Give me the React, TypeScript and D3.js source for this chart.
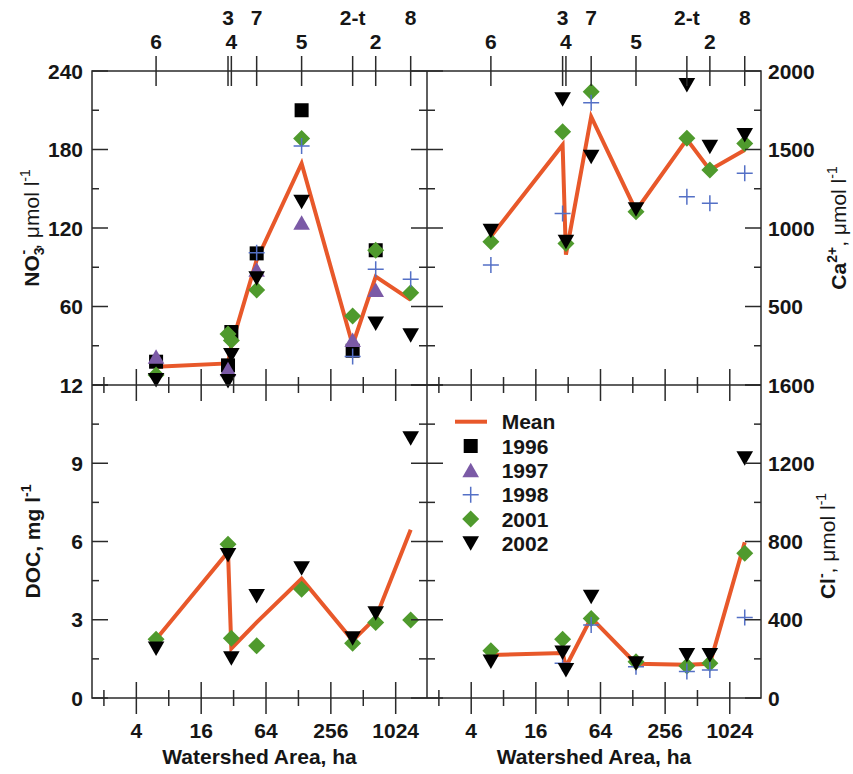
import React from 'react';
import * as d3 from 'd3';

// ---------- data ----------
const siteNames = ['6', '3', '4', '7', '5', '2-t', '2', '8'];
const siteAreas = [6.1, 28.4, 30.5, 52.4, 137, 408, 668, 1411];
const upperRowSites = ['3', '7', '2-t', '8'];

const yearOrder = ['1996', '1997', '2001', '1998', '2002'];
const legendYears = ['1996', '1997', '1998', '2001', '2002'];

const xMajorTicks = [4, 16, 64, 256, 1024];
const xMinorTicks = [2, 8, 32, 128, 512];

// NO3- (umol/l)
const no3Mean = [14, 16.5, 30, 95.5, 169.4, 30.6, 82.8, 65];
const no3Y1996 = [17.8, 15, 40.5, 100.6, 210, 26.2, 103, null];
const no3Y1997 = [21.5, 12, null, 88, 124, 34.4, 72.6, null];
const no3Y1998 = [null, null, null, 101, 182.7, 21.7, 88.4, 80.8];
const no3Y2001 = [7.6, 39, 34, 72.6, 188.5, 52.7, 103, 70.6];
const no3Y2002 = [3.8, 3, 23, 81.5, 140, null, 47, 38];
const no3Max = 240;
const no3TickLabels = [60, 120, 180, 240];

// Ca2+ (umol/l)
const caMean = [945, 1529, 830, 1709, 1110, 1565, 1370, 1497];
const caY1998 = [764, 1093, null, 1798, null, 1199, 1157, 1348];
const caY2001 = [913, 1613, 902, 1868, 1104, 1571, 1369, 1539];
const caY2002 = [983, 1820, 913, 1454, 1119, 1911, 1518, 1592];
const caMax = 2000;
const caTickLabels = [500, 1000, 1500, 2000];

// DOC (mg/l)
const docMean = [2.25, 5.6, 1.9, 2.9, 4.57, 2.2, 3.07, 6.45];
const docY2001 = [2.25, 5.89, 2.29, 2.0, 4.17, 2.1, 2.89, 2.99];
const docY2002 = [1.9, 5.48, 1.52, 3.91, 4.97, 2.29, 3.25, 9.96];
const docMax = 12;
const docTickLabels = [0, 3, 6, 9, 12];

// Cl- (umol/l)
const clMean = [220, 230, 160, 410, 175, 170, 175, 796];
const clY1998 = [null, 177, null, 373, 160, 135, 143, 412];
const clY2001 = [242, 300, null, 407, 185, 164, 178, 740];
const clY2002 = [186, 232, 143, 518, 177, 220, 220, 1225];
const clMax = 1600;
const clTickLabels = [0, 400, 800, 1200, 1600];

// ---------- styling ----------
const FONT = '"Liberation Sans", Arial, Helvetica, sans-serif';
const MEAN_COLOR = '#e8582a';
const AXIS_COLOR = '#2a2a2a';
const TEXT_COLOR = '#161616';

function Marker({ year, cx, cy }: { year: string; cx: number; cy: number }) {
  switch (year) {
    case '1996':
      return <rect x={cx - 7} y={cy - 7} width={14} height={14} fill="#000" />;
    case '1997':
      return (
        <path d={`M${cx},${cy - 7.5}L${cx + 8.3},${cy + 7}L${cx - 8.3},${cy + 7}Z`} fill="#7b5aa6" />
      );
    case '1998':
      return (
        <path
          d={`M${cx - 8},${cy}H${cx + 8}M${cx},${cy - 8}V${cy + 8}`}
          stroke="#5470c6"
          strokeWidth={1.5}
          fill="none"
        />
      );
    case '2001':
      return (
        <path
          d={`M${cx},${cy - 8.5}L${cx + 8.5},${cy}L${cx},${cy + 8.5}L${cx - 8.5},${cy}Z`}
          fill="#4f9a2d"
        />
      );
    case '2002':
      return <path d={`M${cx - 8.3},${cy - 7}L${cx + 8.3},${cy - 7}L${cx},${cy + 7.5}Z`} fill="#000" />;
    default:
      return null;
  }
}

export default function App() {
  const L = 92, M = 427, R = 761, T = 71, H = 385, B = 698;
  const xDomain = [1.55, 2000];
  const xLeft = d3.scaleLog().base(2).domain(xDomain).range([L, M]);
  const xRight = d3.scaleLog().base(2).domain(xDomain).range([M, R]);

  const panels = [
    {
      id: 'no3', xs: xLeft, ys: d3.scaleLinear().domain([0, no3Max]).range([H, T]), max: no3Max,
      mean: no3Mean,
      series: { '1996': no3Y1996, '1997': no3Y1997, '1998': no3Y1998, '2001': no3Y2001, '2002': no3Y2002 } as Record<string, (number | null)[]>,
    },
    {
      id: 'ca', xs: xRight, ys: d3.scaleLinear().domain([0, caMax]).range([H, T]), max: caMax,
      mean: caMean,
      series: { '1998': caY1998, '2001': caY2001, '2002': caY2002 } as Record<string, (number | null)[]>,
    },
    {
      id: 'doc', xs: xLeft, ys: d3.scaleLinear().domain([0, docMax]).range([B, H]), max: docMax,
      mean: docMean,
      series: { '2001': docY2001, '2002': docY2002 } as Record<string, (number | null)[]>,
    },
    {
      id: 'cl', xs: xRight, ys: d3.scaleLinear().domain([0, clMax]).range([B, H]), max: clMax,
      mean: clMean,
      series: { '1998': clY1998, '2001': clY2001, '2002': clY2002 } as Record<string, (number | null)[]>,
    },
  ];

  const tickSteps = d3.range(0, 9);
  const textProps = { fontFamily: FONT, fontWeight: 700, fontSize: 21, fill: TEXT_COLOR };

  const frame = (
    <g stroke={AXIS_COLOR} strokeWidth={1.5} fill="none">
      <rect x={L} y={T} width={R - L} height={B - T} />
      <line x1={M} y1={T} x2={M} y2={B} />
      <line x1={L} y1={H} x2={R} y2={H} />
    </g>
  );

  // x log ticks on the middle and bottom horizontal lines
  const xTicks: JSX.Element[] = [];
  [xLeft, xRight].forEach((xs, si) => {
    [H, B].forEach((yy, yi) => {
      xMajorTicks.forEach((t, i) =>
        xTicks.push(<line key={`xM${si}${yi}${i}`} x1={xs(t)} x2={xs(t)} y1={yy - 16} y2={yy + 16} />)
      );
      xMinorTicks.forEach((t, i) =>
        xTicks.push(<line key={`xm${si}${yi}${i}`} x1={xs(t)} x2={xs(t)} y1={yy - 8} y2={yy + 8} />)
      );
    });
  });

  // top site ticks
  const siteTicks: JSX.Element[] = [];
  const siteLabels: JSX.Element[] = [];
  [xLeft, xRight].forEach((xs, si) => {
    siteAreas.forEach((a, i) => {
      const x = xs(a);
      siteTicks.push(<line key={`st${si}${i}`} x1={x} x2={x} y1={T - 15} y2={T + 15} />);
      const upper = upperRowSites.includes(siteNames[i]);
      siteLabels.push(
        <text key={`sl${si}${i}`} x={x} y={upper ? 25 : 49} textAnchor="middle" {...textProps}>
          {siteNames[i]}
        </text>
      );
    });
  });

  // y ticks
  const yTicks: JSX.Element[] = [];
  panels.forEach((p) => {
    const isLeft = p.id === 'no3' || p.id === 'doc';
    tickSteps.forEach((i) => {
      const v = (p.max * i) / 8;
      const y = p.ys(v);
      const major = i % 2 === 0;
      if (isLeft) {
        yTicks.push(<line key={`yl${p.id}${i}`} x1={L} x2={L + (major ? 16 : 7)} y1={y} y2={y} />);
        yTicks.push(<line key={`ym${p.id}${i}`} x1={M - (major ? 16 : 8)} x2={M + (major ? 16 : 8)} y1={y} y2={y} />);
      } else {
        yTicks.push(<line key={`yr${p.id}${i}`} x1={R - (major ? 16 : 7)} x2={R} y1={y} y2={y} />);
      }
    });
  });

  const yLabel = (vals: number[], ys: d3.ScaleLinear<number, number>, left: boolean, key: string) =>
    vals.map((v) => (
      <text
        key={`${key}${v}`}
        x={left ? L - 9 : R + 7}
        y={ys(v) + 7.5}
        textAnchor={left ? 'end' : 'start'}
        {...textProps}
      >
        {v}
      </text>
    ));

  const xLabels: JSX.Element[] = [];
  [xLeft, xRight].forEach((xs, si) => {
    xMajorTicks.forEach((t, i) =>
      xLabels.push(
        <text key={`xl${si}${i}`} x={xs(t)} y={738} textAnchor="middle" {...textProps}>
          {t}
        </text>
      )
    );
    xLabels.push(
      <text key={`xt${si}`} x={(xs.range()[0] + xs.range()[1]) / 2} y={764} textAnchor="middle" {...textProps}>
        Watershed Area, ha
      </text>
    );
  });

  const meanLine = (p: (typeof panels)[number]) =>
    d3
      .line<number | null>()
      .defined((v) => v != null)
      .x((_, i) => p.xs(siteAreas[i]))
      .y((v) => p.ys(v as number))(p.mean) || '';

  const sub = 14;
  const reg = { fontWeight: 400 };

  // legend
  const legX = 470.7;
  const legRows = [421.7, 446, 470.3, 494.7, 519, 543.3];

  return (
    <svg
      width={853}
      height={774}
      style={{ position: 'absolute', left: 0, top: 0, background: '#fff' }}
      xmlns="http://www.w3.org/2000/svg"
    >
      <rect x={0} y={0} width={853} height={774} fill="#fff" />
      {panels.map((p) => (
        <g key={p.id}>
          <path d={meanLine(p)} fill="none" stroke={MEAN_COLOR} strokeWidth={4} strokeLinejoin="miter" />
          {yearOrder
            .filter((yr) => p.series[yr])
            .map((yr) =>
              p.series[yr].map((v, i) =>
                v == null ? null : (
                  <Marker key={`${p.id}${yr}${i}`} year={yr} cx={p.xs(siteAreas[i])} cy={p.ys(v)} />
                )
              )
            )}
        </g>
      ))}
      {frame}
      <g stroke={AXIS_COLOR} strokeWidth={1.5}>
        {xTicks}
        {siteTicks}
        {yTicks}
      </g>
      {siteLabels}
      {yLabel(no3TickLabels, panels[0].ys, true, 'no3')}
      {yLabel(docTickLabels, panels[2].ys, true, 'doc')}
      {yLabel(caTickLabels, panels[1].ys, false, 'ca')}
      {yLabel(clTickLabels, panels[3].ys, false, 'cl')}
      {xLabels}

      {/* axis titles */}
      <text transform="translate(38.5,228) rotate(-90)" textAnchor="middle" {...textProps}>
        NO
        <tspan fontSize={sub} dy={5}>3</tspan>
        <tspan fontSize={sub} dx={-7} dy={-16}>-</tspan>
        <tspan dy={11} {...reg}>, μmol l</tspan>
        <tspan fontSize={sub} dy={-9} {...reg}>-1</tspan>
      </text>
      <text transform="translate(39.5,541.5) rotate(-90)" textAnchor="middle" {...textProps}>
        DOC, mg l
        <tspan fontSize={sub} dy={-9}>-1</tspan>
      </text>
      <text transform="translate(846,228) rotate(-90)" textAnchor="middle" {...textProps}>
        Ca
        <tspan fontSize={sub} dy={-9}>2+</tspan>
        <tspan dy={9} {...reg}>, μmol l</tspan>
        <tspan fontSize={sub} dy={-9} {...reg}>-1</tspan>
      </text>
      <text transform="translate(835,546) rotate(-90)" textAnchor="middle" {...textProps}>
        Cl
        <tspan fontSize={sub} dy={-9}>-</tspan>
        <tspan dy={9} {...reg}>, μmol l</tspan>
        <tspan fontSize={sub} dy={-9} {...reg}>-1</tspan>
      </text>

      {/* legend */}
      <line x1={455} x2={487} y1={legRows[0]} y2={legRows[0]} stroke={MEAN_COLOR} strokeWidth={4} />
      <text x={501.7} y={legRows[0] + 7.5} {...textProps}>Mean</text>
      {legendYears.map((yr, i) => (
        <g key={`leg${yr}`}>
          <Marker year={yr} cx={legX} cy={legRows[i + 1]} />
          <text x={501.7} y={legRows[i + 1] + 7.5} {...textProps}>
            {yr}
          </text>
        </g>
      ))}
    </svg>
  );
}
